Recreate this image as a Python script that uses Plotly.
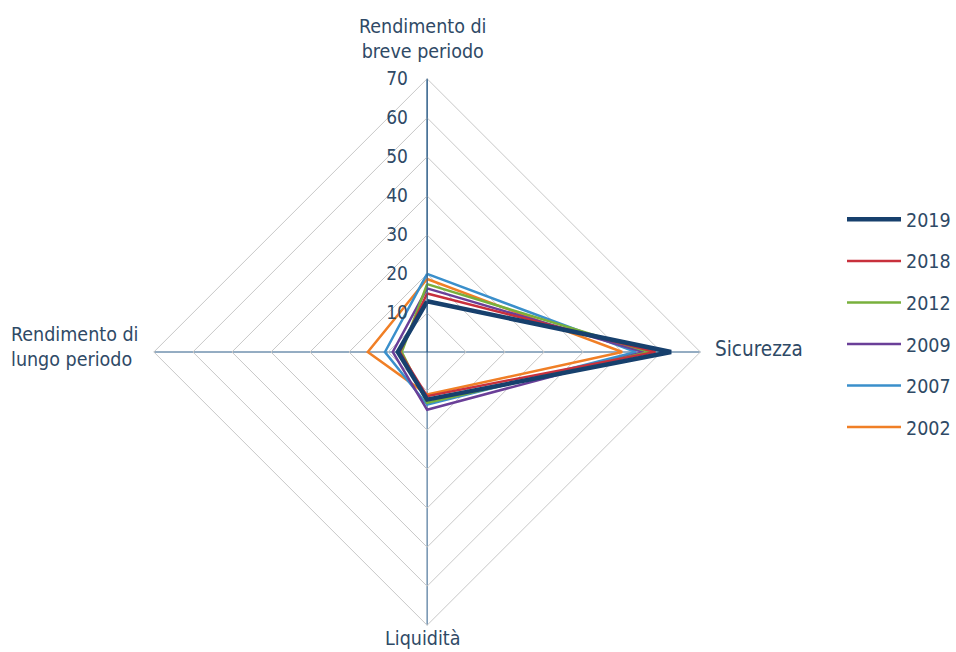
import plotly.graph_objects as go

categories = ["Rendimento di breve periodo", "Sicurezza", "Liquidità", "Rendimento di lungo periodo"]
years = ["2019", "2018", "2012", "2009", "2007", "2002"]
v2019 = [13.0, 62.5, 12.2, 7.5]
v2018 = [15.0, 58.5, 11.3, 7.0]
v2012 = [17.4, 57.0, 13.0, 6.5]
v2009 = [16.3, 55.5, 14.8, 8.8]
v2007 = [20.0, 53.5, 13.5, 10.8]
v2002 = [18.7, 50.0, 10.9, 15.2]
series = [v2019, v2018, v2012, v2009, v2007, v2002]
colors = ["#17406d", "#c8303c", "#78b03c", "#6a3f98", "#3a8fcb", "#f07f26"]
widths = [4.5, 2.5, 2.5, 2.5, 2.5, 2.5]
radial_ticks = [10, 20, 30, 40, 50, 60, 70]

FONT = "DejaVu Sans Condensed, Liberation Sans Narrow, Arial Narrow, sans-serif"
TXT = "#2f4a66"

fig = go.Figure()
order = list(range(len(years)))[::-1]
for i in order:
    vals = series[i] + [series[i][0]]
    fig.add_trace(go.Scatterpolar(
        r=vals, theta=categories + [categories[0]],
        mode="lines", name=years[i], legendgroup=years[i],
        line=dict(color=colors[i], width=widths[i]),
        legendrank=i + 1,
    ))

fig.update_layout(
    width=956, height=652,
    margin=dict(l=0, r=0, t=0, b=0),
    paper_bgcolor="white",
    font=dict(family=FONT, size=19, color=TXT),
    polar=dict(
        domain=dict(x=[156/956, 710/956], y=[1-629/652, 1-75/652]),
        bgcolor="white",
        gridshape="linear",
        radialaxis=dict(
            range=[0, 70], tickvals=radial_ticks, angle=90, tickangle=90,
            showline=True, linecolor="#2b5a86", linewidth=1,
            gridcolor="#c8c8c8", gridwidth=1,
            ticks="outside", ticklen=12, tickcolor="rgba(0,0,0,0)",
            tickfont=dict(size=19, color=TXT, family=FONT),
            side="counterclockwise",
        ),
        angularaxis=dict(
            direction="clockwise", rotation=90,
            showline=True, linecolor="#c8c8c8", linewidth=1,
            gridcolor="#2b5a86", gridwidth=1,
            ticks="", showticklabels=False,
        ),
    ),
    legend=dict(
        x=0.893, y=0.693, xanchor="left", yanchor="top",
        font=dict(size=19.5, color=TXT, family=FONT),
        traceorder="grouped", tracegroupgap=13.2, itemwidth=54,
        bgcolor="rgba(0,0,0,0)",
    ),
)

label_font = dict(size=19.5, color=TXT, family=FONT)
fig.add_annotation(text="Rendimento di<br>breve periodo", x=428/956, y=1-39/652,
                   xanchor="center", yanchor="middle",
                   xref="paper", yref="paper", showarrow=False, font=label_font, align="center")
fig.add_annotation(text="Sicurezza", x=723/956, y=1-349/652, xanchor="left", yanchor="middle",
                   xref="paper", yref="paper", showarrow=False, font=dict(size=20.5, color=TXT, family=FONT))
fig.add_annotation(text="Liquidità", x=428/956, y=1-638/652, xanchor="center", yanchor="middle",
                   xref="paper", yref="paper", showarrow=False, font=label_font)
fig.add_annotation(text="Rendimento di<br>lungo periodo", x=142/956, y=1-347/652,
                   xanchor="right", yanchor="middle",
                   xref="paper", yref="paper", showarrow=False, font=label_font, align="left")

fig.write_html("out.html")
